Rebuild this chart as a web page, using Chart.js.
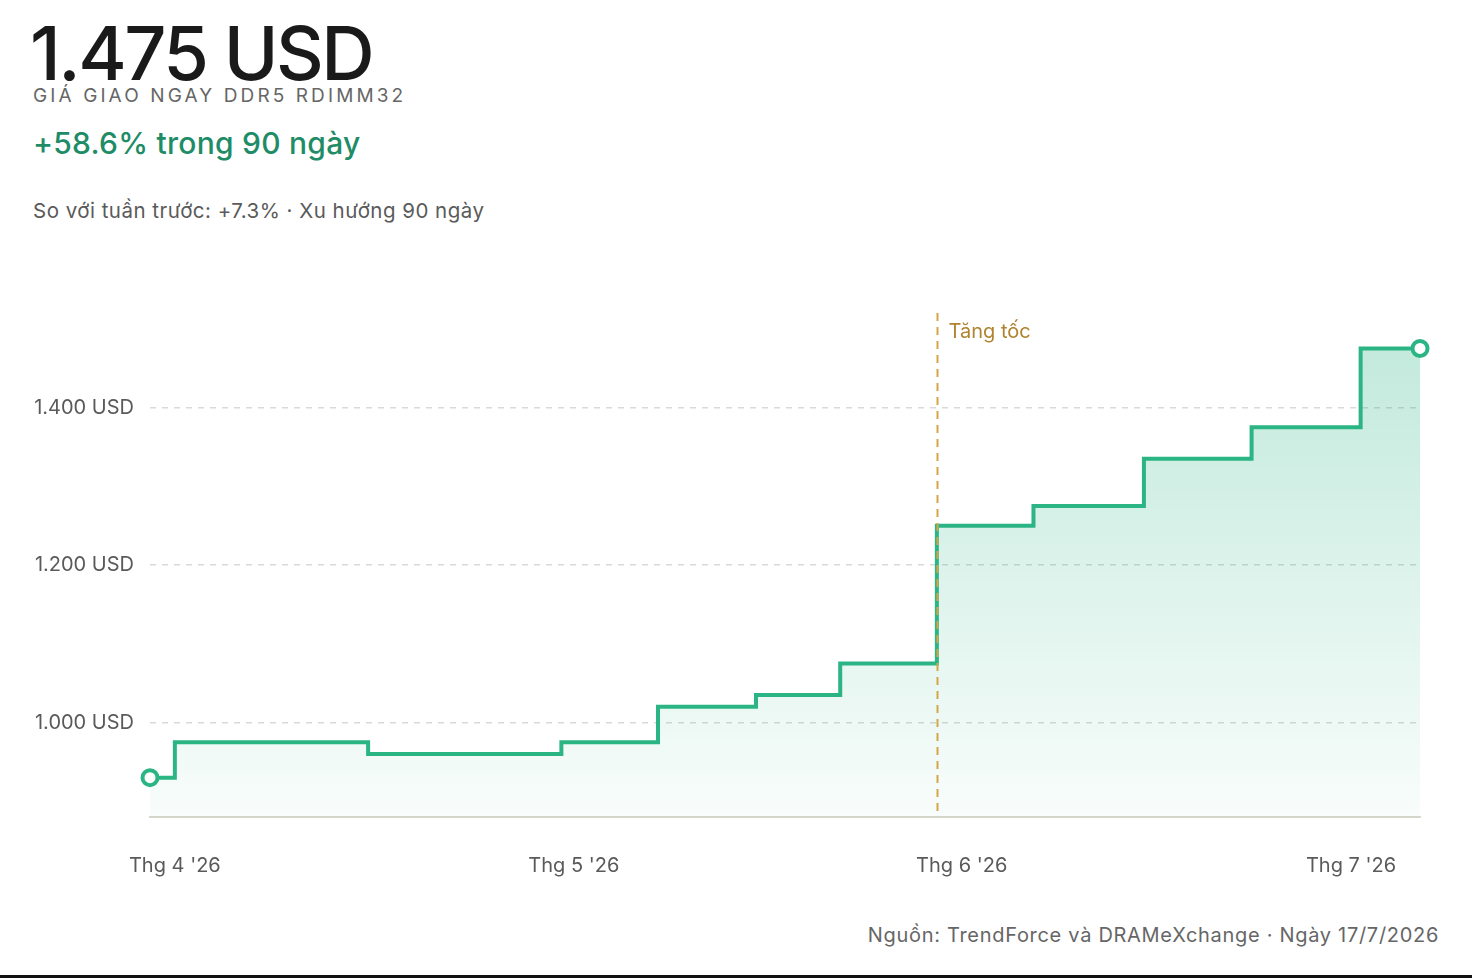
<!DOCTYPE html>
<html>
<head>
<meta charset="utf-8">
<script src="https://cdn.jsdelivr.net/npm/chart.js@4.4.1/dist/chart.umd.min.js"></script>
<style>
  html, body { margin: 0; padding: 0; background: #fff; }
  body { width: 1472px; height: 978px; position: relative; overflow: hidden; font-family: Inter, "Noto Sans", sans-serif; }
  .big { position: absolute; left: 30px; top: 8px; font-size: 74px; font-weight: 500; letter-spacing: -2.5px; color: #1a1a1a; line-height: 90px; }
  .sub { position: absolute; left: 33px; top: 84px; font-size: 19px; letter-spacing: 3.1px; color: #666; line-height: 24px; }
  .chg { position: absolute; left: 33px; top: 124px; font-size: 30px; font-weight: 500; color: #1e8c66; line-height: 38px; letter-spacing: 0.25px; }
  .note { position: absolute; left: 33px; top: 198px; font-size: 20.5px; color: #5a5a5a; line-height: 26px; letter-spacing: 0.48px; }
  .src { position: absolute; right: 33px; top: 922px; font-size: 20px; color: #666; line-height: 26px; letter-spacing: 0.7px; }
  .rule { position: absolute; left: 0; right: 0; top: 975px; height: 3px; background: #111; }
  #wrap { position: absolute; left: 0; top: 285px; width: 1472px; height: 615px; }
</style>
</head>
<body>
<div class="big">1.475 USD</div>
<div class="sub">GIÁ GIAO NGAY DDR5 RDIMM32</div>
<div class="chg">+58.6% trong 90 ngày</div>
<div class="note">So với tuần trước: +7.3% · Xu hướng 90 ngày</div>
<div id="wrap"><canvas id="c"></canvas></div>
<div class="src">Nguồn: TrendForce và DRAMeXchange · Ngày 17/7/2026</div>
<div class="rule"></div>
<script>
// Days since start of the 90-day window
const days   = [0,   1.8, 15.8, 29.8, 36.8, 43.9, 50,   57,   64,   72,   79.8, 87.7, 92];
const prices = [930, 975, 960,  975,  1020, 1035, 1075, 1250, 1275, 1335, 1375, 1475, 1475];
const xTickValues = [1.8, 30.7, 58.8, 87];
const xTickLabels = ["Thg 4 '26", "Thg 5 '26", "Thg 6 '26", "Thg 7 '26"];
const yTickValues = [1000, 1200, 1400];
const markerDay = 57;
const markerLabel = "Tăng tốc";

const points = days.map((d, i) => ({ x: d, y: prices[i] }));
const fmt = v => v.toLocaleString('de-DE') + ' USD';

const markerPlugin = {
  id: 'marker',
  afterDatasetsDraw(chart) {
    const { ctx, chartArea, scales } = chart;
    const x = Math.round(scales.x.getPixelForValue(markerDay)) + 0.5;
    ctx.save();
    ctx.strokeStyle = '#d4a64a';
    ctx.lineWidth = 2;
    ctx.setLineDash([8, 6]);
    ctx.beginPath();
    ctx.moveTo(x, chartArea.top);
    ctx.lineTo(x, chartArea.bottom);
    ctx.stroke();
    ctx.setLineDash([]);
    ctx.fillStyle = '#b0832f';
    ctx.font = '20px Inter, "Noto Sans", sans-serif';
    ctx.textBaseline = 'middle';
    ctx.fillText(markerLabel, x + 11, chartArea.top + 19);
    ctx.restore();
  }
};

const ctx = document.getElementById('c').getContext('2d');
new Chart(ctx, {
  type: 'line',
  data: {
    datasets: [{
      data: points,
      stepped: 'before',
      borderColor: '#2bb585',
      borderWidth: 4,
      fill: 'start',
      backgroundColor: (c) => {
        const area = c.chart.chartArea;
        if (!area) return 'rgba(43,181,133,0.2)';
        const g = c.chart.ctx.createLinearGradient(0, area.top, 0, area.bottom);
        g.addColorStop(0, 'rgba(43,181,133,0.30)');
        g.addColorStop(1, 'rgba(43,181,133,0.03)');
        return g;
      },
      pointRadius: (c) => (c.dataIndex === 0 || c.dataIndex === points.length - 1) ? 7.5 : 0,
      pointBackgroundColor: '#fff',
      pointBorderColor: '#2bb585',
      pointBorderWidth: 4,
      pointHoverRadius: 0,
      clip: false
    }]
  },
  options: {
    responsive: true,
    maintainAspectRatio: false,
    animation: false,
    layout: { padding: { top: 18, right: 52, left: 0, bottom: 0 } },
    plugins: { legend: { display: false }, tooltip: { enabled: false } },
    scales: {
      x: {
        type: 'linear',
        min: 0,
        max: 92,
        afterBuildTicks: (s) => { s.ticks = xTickValues.map(v => ({ value: v })); },
        afterFit: (s) => { s.height = 83; },
        ticks: {
          autoSkip: false,
          maxRotation: 0,
          padding: 37,
          color: '#5a5a5a',
          font: { family: 'Inter, "Noto Sans", sans-serif', size: 20 },
          callback: (v) => xTickLabels[xTickValues.indexOf(v)]
        },
        grid: { display: false, drawTicks: false },
        border: { display: true, color: '#d9d6cb', width: 2 }
      },
      y: {
        min: 880,
        max: 1520,
        afterBuildTicks: (s) => { s.ticks = yTickValues.map(v => ({ value: v })); },
        afterFit: (s) => { s.width = 150; },
        ticks: {
          padding: 16,
          color: '#5a5a5a',
          font: { family: 'Inter, "Noto Sans", sans-serif', size: 20 },
          callback: (v) => fmt(v)
        },
        grid: { color: '#d9d9d9', lineWidth: 1.5, drawTicks: false },
        border: { display: false, dash: [6, 6] }
      }
    }
  },
  plugins: [markerPlugin]
});
</script>
</body>
</html>
